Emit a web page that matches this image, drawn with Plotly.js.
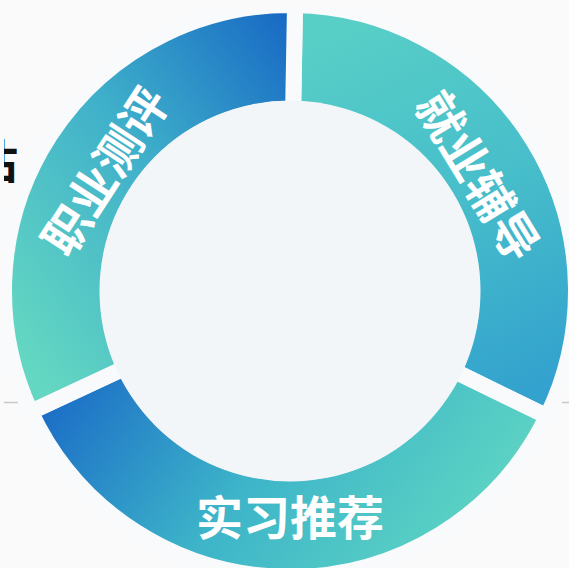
<!DOCTYPE html>
<html><head><meta charset="utf-8">
<script src="https://cdn.plot.ly/plotly-3.0.1.min.js"></script>
<style>
html,body{margin:0;padding:0;overflow:hidden;width:569px;height:568px;background:#FAFAFA;}
#chart{position:absolute;left:4px;top:4.5px;width:572px;height:572px;}
</style></head><body><div id="chart"></div>
<script>
// data
const labels = ['就业辅导', '实习推荐', '职业测评'];
const values = [115, 129, 116];
const sideText = '估';

// styles (gradient per slice, objectBoundingBox units)
const gradients = [
  {x1: 0.3, y1: 0, x2: 0.6, y2: 1, stops: [[0, '#58CFC6'], [0.5, '#47BECA'], [1, '#33A2CE']]},
  {x1: 0, y1: 0.1, x2: 1, y2: 0.4, stops: [[0, '#1866C6'], [0.5, '#3DB4C9'], [1, '#5ED5C2']]},
  {x1: 1, y1: 0, x2: 0.1, y2: 0.9, stops: [[0, '#1565C4'], [0.5, '#3FB0CA'], [1, '#64D7C2']]}
];

const W = 572;
const data = [{
  type: 'pie',
  labels: labels,
  values: values,
  sort: false,
  direction: 'clockwise',
  rotation: 1,
  hole: 0.636,
  textinfo: 'label',
  textposition: 'inside',
  insidetextorientation: 'tangential',
  textfont: {color: '#FFFFFF', size: 47, family: 'Noto Sans CJK SC', weight: 'bold'},
  marker: {colors: ['#47BECA', '#3DB4C9', '#3FB0CA'], line: {color: '#F9FAFB', width: 16}},
  hoverinfo: 'none',
  showlegend: false
}];

const layout = {
  width: W, height: W,
  margin: {l: 0, r: 0, t: 0, b: 0},
  paper_bgcolor: '#FAFAFA',
  plot_bgcolor: '#FAFAFA',
  showlegend: false,
  shapes: [
    {type: 'circle', xref: 'paper', yref: 'paper', x0: (286 - 190.5) / W, x1: (286 + 190.5) / W, y0: (286 - 190.5) / W, y1: (286 + 190.5) / W,
     fillcolor: '#F3F6F9', line: {width: 0}, layer: 'above'},
    {type: 'line', xref: 'paper', yref: 'paper', x0: -0.01, x1: 24 / W, y0: 1 - 397.5 / W, y1: 1 - 397.5 / W,
     line: {color: '#C9C9C9', width: 1.5}, layer: 'below'},
    {type: 'line', xref: 'paper', yref: 'paper', x0: 549 / W, x1: 1.01, y0: 1 - 397.5 / W, y1: 1 - 397.5 / W,
     line: {color: '#C9C9C9', width: 1.5}, layer: 'below'}
  ],
  annotations: [
    {text: sideText, xref: 'paper', yref: 'paper', x: 16 / W, y: 1 - 152.5 / W, xanchor: 'right', yanchor: 'middle',
     showarrow: false, font: {family: 'Noto Sans CJK SC', size: 46, color: '#111111', weight: 'bold'}}
  ]
};

Plotly.newPlot('chart', data, layout, {staticPlot: true, displayModeBar: false}).then(function (gd) {
  const ns = 'http://www.w3.org/2000/svg';
  const svg = gd.querySelector('svg.main-svg');
  let defs = svg.querySelector('defs');
  if (!defs) { defs = document.createElementNS(ns, 'defs'); svg.insertBefore(defs, svg.firstChild); }
  gradients.forEach(function (g, i) {
    const lg = document.createElementNS(ns, 'linearGradient');
    lg.setAttribute('id', 'sliceGrad' + i);
    lg.setAttribute('x1', g.x1); lg.setAttribute('y1', g.y1);
    lg.setAttribute('x2', g.x2); lg.setAttribute('y2', g.y2);
    g.stops.forEach(function (s) {
      const st = document.createElementNS(ns, 'stop');
      st.setAttribute('offset', s[0]);
      st.setAttribute('stop-color', s[1]);
      lg.appendChild(st);
    });
    defs.appendChild(lg);
  });
  gd.querySelectorAll('g.slice').forEach(function (s, i) {
    const p = s.querySelector('path.surface');
    if (p) p.style.fill = 'url(#sliceGrad' + i + ')';
  });
});
</script>
</body></html>
